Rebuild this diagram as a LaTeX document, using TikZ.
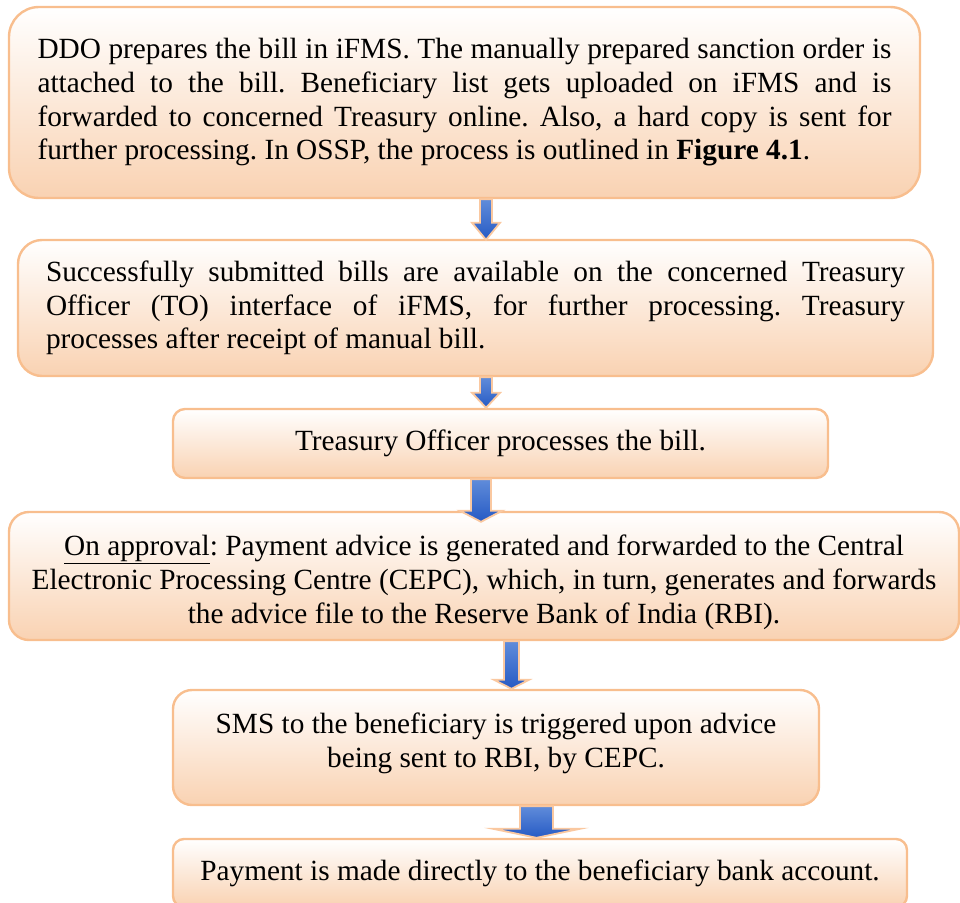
\documentclass[tikz,border=0pt]{standalone}
\usepackage{fontspec}
\setmainfont{Liberation Serif}
\usetikzlibrary{positioning,calc}
\definecolor{boxedge}{RGB}{248,190,142}
\definecolor{boxpeach}{RGB}{249,210,178}
\definecolor{arrowtop}{RGB}{96,140,218}
\definecolor{arrowbot}{RGB}{38,90,196}
\definecolor{arrowedge}{RGB}{250,200,160}
\frenchspacing

\begin{document}
\begin{tikzpicture}[x=1pt, y=-1pt,
    every node/.style={font=\fontsize{29.3}{33.7}\selectfont},
    stepbox/.style={draw=boxedge, line width=2.4pt, top color=white,
      bottom color=boxpeach, rounded corners=#1, inner sep=0pt},
    stepbox/.default=20pt,
    blockarrow/.style={draw=arrowedge, line width=1.8pt,
      top color=arrowtop, bottom color=arrowbot}]
  \useasboundingbox (0,0) rectangle (960,902);

  % process steps
  \node[stepbox=30pt, minimum width=911pt, minimum height=191pt,
        text width=854pt, align=justify] (prep) at (464.5,102.5)
    {DDO prepares the bill in iFMS. The manually prepared sanction order is\linebreak
     attached to the bill. Beneficiary list gets uploaded on iFMS and is\linebreak
     forwarded to concerned Treasury online. Also, a hard copy is sent for\linebreak
     further processing. In OSSP, the process is outlined in \textbf{Figure 4.1}.};
  \node[stepbox=24pt, minimum width=915pt, minimum height=136pt,
        text width=859pt, align=justify] (submit) at (475.5,308)
    {Successfully submitted bills are available on the concerned Treasury\linebreak
     Officer (TO) interface of iFMS, for further processing. Treasury\linebreak
     processes after receipt of manual bill.};
  \node[stepbox=12pt, minimum width=655pt, minimum height=69pt] (tooff) at (500.5,443.5)
    {Treasury Officer processes the bill.};
  \node[stepbox=20pt, minimum width=950pt, minimum height=128pt,
        align=center] (approve) at (484,576)
    {\rule{0pt}{33pt}\underline{On approval}: Payment advice is generated and forwarded to the Central\\
     Electronic Processing Centre (CEPC), which, in turn, generates and forwards\\
     the advice file to the Reserve Bank of India (RBI).};
  \node[stepbox=19pt, minimum width=646pt, minimum height=115pt,
        align=center, text depth=14pt] (sms) at (496,747.5)
    {SMS to the beneficiary is triggered upon advice\\
     being sent to RBI, by CEPC.};
  \node[stepbox=11pt, minimum width=734pt, minimum height=68pt] (pay) at (540,873)
    {Payment is made directly to the beneficiary bank account.};

  % block arrows between the steps
  \foreach \src/\dst/\ax/\sw/\hw/\hl/\ov in {prep/submit/486/6/14/17/1,
      submit/tooff/486/6/14/15/0, tooff/approve/481/10/21/11/11,
      approve/sms/511.5/7.5/17.5/9/0, sms/pay/536.5/16.5/43.5/9/0}
    \path[blockarrow] let \p1=(\src.south), \p2=(\dst.north) in
      ({(\ax-\sw)*1pt},\y1) -- ({(\ax-\sw)*1pt},{\y2+(\hl-\ov)*1pt})
      -- ({(\ax-\hw)*1pt},{\y2+(\hl-\ov)*1pt}) -- ({\ax*1pt},{\y2-\ov*1pt})
      -- ({(\ax+\hw)*1pt},{\y2+(\hl-\ov)*1pt}) -- ({(\ax+\sw)*1pt},{\y2+(\hl-\ov)*1pt})
      -- ({(\ax+\sw)*1pt},\y1) -- cycle;
\end{tikzpicture}
\end{document}
